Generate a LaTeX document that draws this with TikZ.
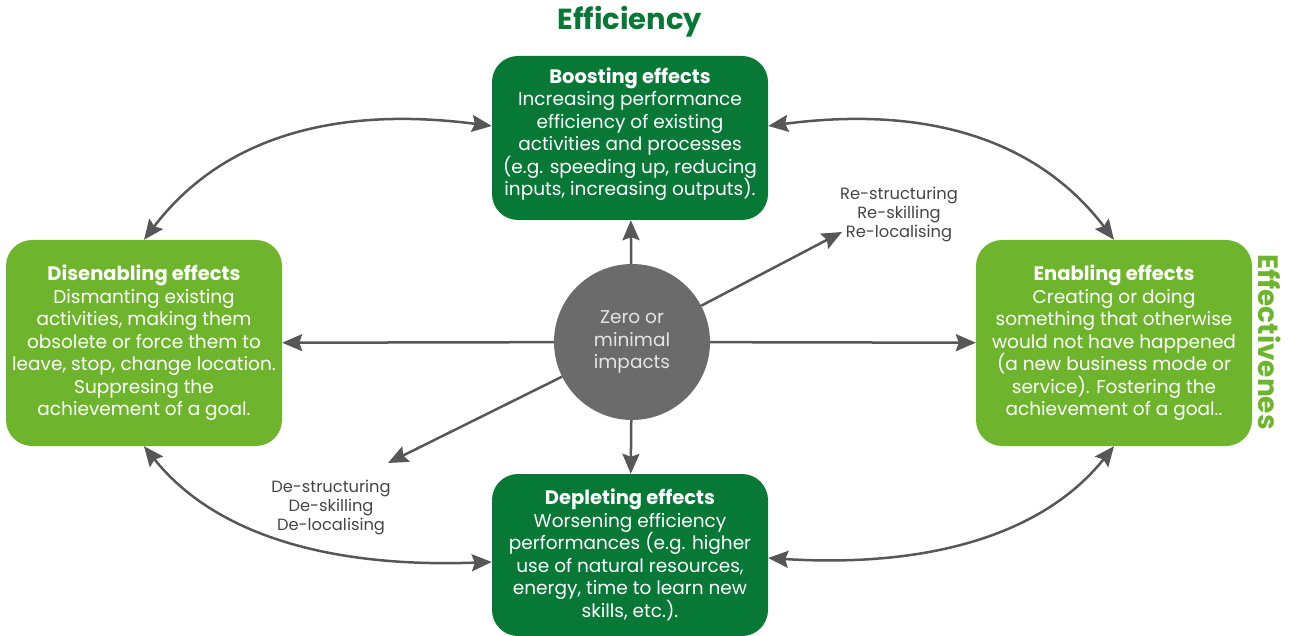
\documentclass[tikz,border=0pt]{standalone}
\usepackage{fontspec}
\setmainfont{Poppins}
\usetikzlibrary{arrows.meta}
\definecolor{darkgreen}{HTML}{077836}
\definecolor{lightgreen}{HTML}{6EB52D}
\definecolor{impactgray}{HTML}{6B6B6B}
\definecolor{arrowgray}{HTML}{575757}
\definecolor{labelgray}{HTML}{454545}
\newcommand{\effecttitle}[1]{{\fontsize{19.5}{22.5}\selectfont\bfseries #1}}
\begin{document}
\begin{tikzpicture}[x=1pt,y=-1pt,
    effect/.style={rounded corners=26pt,minimum width=276pt,text=white,align=center,
      font=\fontsize{18.5}{22.5}\selectfont},
    link/.style={draw=arrowgray,line width=2.5pt,-{Stealth[length=20pt,width=17pt,inset=3pt]}},
    twoway/.style={link,{Stealth[length=20pt,width=17pt,inset=3pt]}-{Stealth[length=20pt,width=17pt,inset=3pt]}},
    changelabel/.style={align=center,text=labelgray,font=\fontsize{16.3}{19}\selectfont}]
    \useasboundingbox (0,0) rectangle (1293,636);

    % axis titles
    \node[text=darkgreen,font=\fontsize{29}{32}\selectfont\bfseries] (efficiency) at (630,22) {Efficiency};
    \node[text=lightgreen,font=\fontsize{28}{32}\selectfont\bfseries,rotate=-90] (effectiveness) at (1270,342) {Effectivenes};

    % the four kinds of effect
    \node[effect,fill=darkgreen,minimum height=164pt] (boost) at (630,138)
        {\effecttitle{Boosting effects}\\Increasing performance\\efficiency of existing\\activities and processes\\(e.g. speeding up, reducing\\inputs, increasing outputs).\\[-10pt]};
    \node[effect,fill=lightgreen,minimum height=206pt] (disen) at (144,343)
        {\effecttitle{Disenabling effects}\\Dismanting existing\\activities, making them\\obsolete or force them to\\leave, stop, change location.\\Suppresing the\\achievement of a goal.};
    \node[effect,fill=lightgreen,minimum height=206pt] (enab) at (1114,343)
        {\effecttitle{Enabling effects}\\Creating or doing\\something that otherwise\\would not have happened\\(a new business mode or\\service). Fostering the\\achievement of a goal..};
    \node[effect,fill=darkgreen,minimum height=162pt] (deplete) at (630,555)
        {\effecttitle{Depleting effects}\\Worsening efficiency\\performances (e.g. higher\\use of natural resources,\\energy, time to learn new\\skills, etc.).};

    % centre
    \node[circle,fill=impactgray,minimum size=156pt,text=white!90!black,align=center,
      font=\fontsize{18.5}{22.5}\selectfont] (impact) at (632,342) {Zero or\\minimal\\impacts};

    \node[changelabel] (restruct) at (899,214) {Re-structuring\\Re-skilling\\Re-localising};
    \node[changelabel] (destruct) at (331,507) {De-structuring\\De-skilling\\De-localising};
    \coordinate (re tip) at (842,232);
    \coordinate (de tip) at (388,463);

    % straight arrows out of the centre
    \draw[link] (impact) -- (boost);
    \draw[link] (impact) -- (deplete);
    \draw[link] (impact) -- (disen);
    \draw[link] (impact) -- (enab);
    \draw[link] (impact) -- (re tip);
    \draw[link] (impact) -- (de tip);

    % curved links between neighbouring effects
    \draw[twoway] (disen.north) .. controls (220,140) and (330,105) .. ([yshift=12pt]boost.west);
    \draw[twoway] (enab.north) .. controls (1038,140) and (928,105) .. ([yshift=12pt]boost.east);
    \draw[twoway] (disen.south) .. controls (215,535) and (330,568) .. ([yshift=-7pt]deplete.west);
    \draw[twoway] (enab.south) .. controls (1043,535) and (928,568) .. ([yshift=-3pt]deplete.east);
\end{tikzpicture}
\end{document}
